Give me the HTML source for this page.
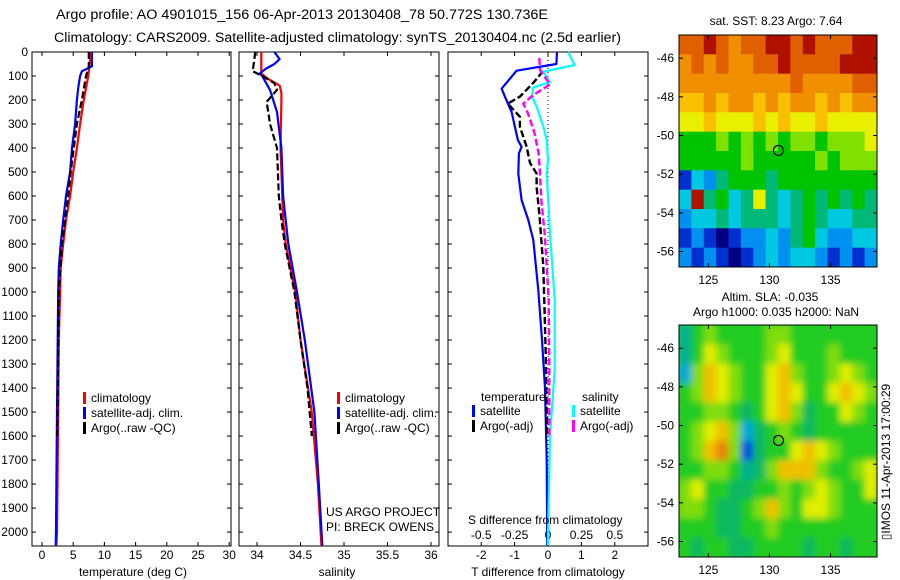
<!DOCTYPE html>
<html><head><meta charset="utf-8"><style>
body{margin:0;background:#fff}
svg{display:block;font-family:"Liberation Sans",sans-serif}
text{fill:#000}
</style></head><body>
<svg id="fig" width="900" height="580" viewBox="0 0 900 580">
<text x="56" y="19" font-size="13.5" textLength="492" lengthAdjust="spacingAndGlyphs">Argo profile: AO 4901015_156 06-Apr-2013 20130408_78 50.772S 130.736E</text>
<text x="54" y="42" font-size="13.5" textLength="567" lengthAdjust="spacingAndGlyphs">Climatology: CARS2009. Satellite-adjusted climatology: synTS_20130404.nc (2.5d earlier)</text>
</svg>
<script>
// ---------- data ----------
const depthTicks=[0,100,200,300,400,500,600,700,800,900,1000,1100,1200,1300,1400,1500,1600,1700,1800,1900,2000];
const tTicks=[0,5,10,15,20,25,30];
const sTicks=[34,34.5,35,35.5,36];
const dTTicks=[-2,-1,0,1,2];
const dSTicks=[-0.5,-0.25,0,0.25,0.5];
const dSTickLabels=["-0.5","-0.25","0","0.25","0.5"];

const climDepth=[0,100,200,300,400,500,600,700,800,900,1000,1200,1500,2000,2055];
const climT=[7.85,7.4,6.7,6.1,5.6,5.0,4.5,3.85,3.4,3.0,2.9,2.7,2.6,2.4,2.3];
const satDepth=[0,60,80,100,150,200,300,400,500,600,700,800,900,1000,1500,2000,2055];
const satT=[8.0,8.0,6.4,6.1,5.8,5.6,5.3,4.8,4.5,3.85,3.4,3.0,2.7,2.6,2.4,2.25,2.2];
const argoDepth=[0,60,100,200,300,400,500,600,800,1000,1500,1600];
const argoT=[7.5,7.5,7.05,6.4,5.6,5.1,4.6,4.2,3.2,2.7,2.5,2.45];

const climSDepth=[0,90,110,140,170,200,400,500,700,800,1000,1200,1500,1800,2055];
const climS=[34.05,34.05,34.12,34.26,34.28,34.28,34.27,34.28,34.30,34.33,34.44,34.50,34.63,34.70,34.74];
const satSDepth=[0,30,50,70,90,100,158,250,400,600,800,1000,1200,1500,1800,2055];
const satS=[34.2,34.26,34.2,34.1,34.03,34.06,34.15,34.23,34.28,34.30,34.36,34.46,34.55,34.66,34.71,34.75];
const argoSDepth=[0,80,100,130,158,208,250,300,400,500,600,700,800,1000,1200,1400,1600];
const argoS=[33.98,33.95,34.06,34.2,34.23,34.11,34.13,34.15,34.23,34.24,34.25,34.28,34.32,34.43,34.5,34.58,34.63];

const dTsatDepth=[0,50,78,153,215,250,367,395,422,506,617,700,783,992,1200,1400,1700,2055];
const dTsat=[0.27,0.25,-0.94,-1.39,-1.2,-1.09,-0.9,-0.79,-0.87,-0.89,-0.79,-0.59,-0.44,-0.29,-0.18,-0.09,-0.04,-0.02];
const dTargoDepth=[80,130,186,215,270,311,394,462,506,561,686,894,1100,1300,1600];
const dTargo=[-0.15,-0.45,-0.84,-1.2,-0.84,-0.84,-0.64,-0.54,-0.34,-0.34,-0.25,-0.14,-0.1,-0.06,-0.03];
const dSsatDepth=[0,54,82,126,147,186,227,311,367,450,506,756,1033,1325,1600,2000,2055];
const dSsat=[0.15,0.2,-0.035,0.015,-0.11,-0.12,-0.085,-0.035,-0.01,0,-0.01,0.015,0.05,0.05,0.015,0,0];
const dSargoDepth=[25,75,135,179,215,256,339,422,506,617,756,894,1033,1300,1600];
const dSargo=[-0.065,-0.06,0.015,-0.11,-0.185,-0.15,-0.1,-0.07,-0.06,-0.05,-0.025,-0.01,0.005,0.01,0.01];

const lonTicks=[125,130,135];
const latTicks=[-46,-48,-50,-52,-54,-56];
const argoLon=130.736, argoLat=-50.772;
const sstRows=[
[10,10,11,10,9,10,10,11,11,10,11,10,10,10,11,11],
[9,10,9,10,9,9,10,10,11,10,10,10,10,11,11,11],
[9,9,9,9,9,9,9,9,9,10,9,9,9,9,10,10],
[8,8,9,8,9,9,8,9,8,9,9,8,9,8,9,9],
[7,7,8,7,7,7,8,7,8,7,7,8,7,7,7,7],
[5,5,5,6,5,6,5,6,5,6,6,5,6,6,6,7],
[5,5,5,5,5,6,5,5,5,5,5,6,5,6,6,6],
[1,3,2,4,5,5,5,4,5,5,5,5,5,5,5,5],
[3,11,4,5,3,4,7,4,3,4,5,4,5,4,5,4],
[2,3,3,4,3,4,4,4,3,4,5,4,3,3,4,4],
[1,2,1,0,1,2,2,3,2,4,5,3,2,2,3,3],
[2,1,2,1,0,1,2,3,2,3,3,2,1,2,1,2]];
const sstColors=["#000080","#0030d0","#0090f0","#00c8e0","#00b878","#00c400","#80e000","#e8f000","#f8c000","#f09000","#e06000","#b01000"];
const slaRows=[
[3,5,6,5,5,5,5,6,6,5,5,5,5,5,5,5],
[3,5,7,6,5,5,5,6,7,5,5,5,6,5,5,5],
[2,6,8,7,6,5,5,7,8,6,5,5,6,7,6,5],
[5,6,8,7,6,5,5,7,8,7,5,5,7,8,7,6],
[5,5,6,6,5,4,5,7,8,6,4,5,5,7,6,5],
[5,6,7,8,6,2,4,5,6,5,4,5,5,5,5,5],
[5,6,8,9,6,1,4,5,5,7,8,7,6,5,5,5],
[5,5,6,6,5,3,4,6,8,8,8,6,5,5,6,7],
[6,7,5,5,4,4,5,5,6,5,6,7,6,5,5,7],
[6,6,5,4,4,5,6,8,6,5,7,7,6,5,5,5],
[5,5,5,4,4,5,5,6,5,5,5,5,5,5,5,5],
[5,4,5,5,4,4,5,5,5,5,4,5,5,4,5,5]];
const slaColors=["#002090","#0050e0","#00a8d8","#00b090","#10b860","#22cc22","#80dd10","#e0ee00","#f0c000","#e88010"];

// ---------- helpers ----------
const NS="http://www.w3.org/2000/svg";
const svg=document.getElementById('fig');
function mk(tag,attrs,parent){const e=document.createElementNS(NS,tag);for(const k in attrs)e.setAttribute(k,attrs[k]);(parent||svg).appendChild(e);return e;}
function txt(x,y,s,anchor,size,parent){const t=mk('text',{x:x,y:y,'font-size':size||12,'text-anchor':anchor||'start'},parent);t.textContent=s;return t;}

const Y0=52, Y1=546, D1=2058;
const yD=d=>Y0+(Y1-Y0)*d/D1;
function panel(x0,x1,name){
  const g=mk('g',{});
  
  
  const r=mk('rect',{x:x0,y:Y0,width:x1-x0,height:Y1-Y0,fill:'#fff',stroke:'#000','stroke-width':1},g);
  
  
  depthTicks.forEach(d=>{mk('line',{x1:x0,x2:x0+4,y1:yD(d),y2:yD(d),stroke:'#000'},g);mk('line',{x1:x1-4,x2:x1,y1:yD(d),y2:yD(d),stroke:'#000'},g);});
  return g;
}
function line(g,xs,ds,sx,color,dash,name,w){
  const pts=xs.map((v,i)=>sx(v).toFixed(1)+','+yD(ds[i]).toFixed(1)).join(' ');
  const p=mk('polyline',{points:pts,fill:'none',stroke:color,'stroke-width':w||2.2,'stroke-dasharray':dash||'none','stroke-linejoin':'round'},g);
  
  
}
function xticks(g,x0,x1,ticks,sx,labels,ly){
  ticks.forEach((t,i)=>{const x=sx(t);mk('line',{x1:x,x2:x,y1:Y0,y2:Y0+4,stroke:'#000'},g);mk('line',{x1:x,x2:x,y1:Y1-4,y2:Y1,stroke:'#000'},g);
    const l=txt(x,ly,labels?labels[i]:String(t),'middle',12,g);
    
    });
}
function legend(g,x,y,items){
  items.forEach((it,i)=>{mk('rect',{x:x,y:y+i*15-10,width:3,height:12,fill:it[1]},g);
    const t=txt(x+8,y+i*15,it[0],'start',12,g);
    
    });
}

const dl=mk('g',{});


depthTicks.forEach(d=>{txt(28,yD(d)+4,String(d),'end',12,dl);});

// Panel 1 temperature
const tx=v=>42+v*6.24;
const p1=panel(32,231,'temperature-panel');
xticks(p1,32,231,tTicks,tx,null,559);
line(p1,climT,climDepth,tx,'#ff0000',null,'climatology-temp-line');
line(p1,satT,satDepth,tx,'#0000ff',null,'satellite-temp-line');
line(p1,argoT,argoDepth,tx,'#000',"7,3",'argo-temp-line');
legend(p1,83,402,[["climatology","#f00"],["satellite-adj. clim.","#00f"],["Argo(..raw -QC)","#000"]]);
const xt1=txt(133,576,'temperature (deg C)','middle',12);



// Panel 2 salinity
const sx=v=>257+(v-34)*87;
const p2=panel(239,439,'salinity-panel');
xticks(p2,239,439,sTicks,sx,null,559);
line(p2,climS,climSDepth,sx,'#ff0000',null,'climatology-salinity-line');
line(p2,satS,satSDepth,sx,'#0000ff',null,'satellite-salinity-line');
line(p2,argoS,argoSDepth,sx,'#000',"7,3",'argo-salinity-line');
legend(p2,337,402,[["climatology","#f00"],["satellite-adj. clim.","#00f"],["Argo(..raw -QC)","#000"]]);
txt(326,516,'US ARGO PROJECT','start',12,p2);
txt(326,531,'PI: BRECK OWENS','start',12,p2);
const xt2=txt(337,576,'salinity','middle',12);



// Panel 3 differences
const dx=v=>548+v*33.4;
const dsx=v=>548+v*133.6;
const p3=panel(448,648,'difference-panel');
dTTicks.forEach(t=>{const x=dx(t);mk('line',{x1:x,x2:x,y1:Y0,y2:Y0+4,stroke:'#000'},p3);mk('line',{x1:x,x2:x,y1:Y1-4,y2:Y1,stroke:'#000'},p3);txt(x,559,String(t),'middle',12,p3);});
dSTicks.forEach((t,i)=>{txt(dsx(t),539,dSTickLabels[i],'middle',12,p3);});
mk('line',{x1:548,x2:548,y1:Y0,y2:Y1,stroke:'#000','stroke-dasharray':'1,3'},p3);
line(p3,dTsat,dTsatDepth,dx,'#0000ff',null,'satellite-temp-diff-line');
line(p3,dTargo,dTargoDepth,dx,'#000',"7,3",'argo-temp-diff-line',2.4);
line(p3,dSsat,dSsatDepth,dsx,'#00ffff',null,'satellite-salinity-diff-line');
line(p3,dSargo,dSargoDepth,dsx,'#ff00ff',"7,3",'argo-salinity-diff-line',2.4);
txt(481,401,'temperature','start',12,p3);
txt(582,401,'salinity','start',12,p3);
legend(p3,472,415,[["satellite","#00f"],["Argo(-adj)","#000"]]);
legend(p3,572,415,[["satellite","#0ff"],["Argo(-adj)","#f0f"]]);
txt(468,524,'S difference from climatology','start',12,p3);
const xt3=txt(548,576,'T difference from climatology','middle',12);



// Maps
function map(top,bot,rows,colors,name,blur){
  const L=679,R=877,W=R-L,H=bot-top;
  const lx=v=>L+(v-122.6)*W/16.2;
  const ly=v=>top+(-44.8-v)*H/12;
  const g=mk('g',{});
  
  
  const cid='clip-'+name;
  const cp=mk('clipPath',{id:cid},g);mk('rect',{x:L,y:top,width:W,height:H},cp);
  const cells=mk('g',{'clip-path':'url(#'+cid+')'},g);
  const inner=mk('g',blur?{filter:'url(#bl)'}:{},cells);
  if(blur){
    mk('rect',{x:L-12,y:top-12,width:W+24,height:H+24,fill:colors[5]},inner);
  }
  const cw=W/rows[0].length,ch=H/rows.length;
  rows.forEach((r,i)=>r.forEach((c,j)=>{
    const e=mk('rect',{x:(L+j*cw).toFixed(1),y:(top+i*ch).toFixed(1),width:(cw+0.6).toFixed(1),height:(ch+0.6).toFixed(1),fill:colors[c]},inner);
    
    
  }));
  mk('rect',{x:L,y:top,width:W,height:H,fill:'none',stroke:'#000'},g);
  latTicks.forEach(v=>{const y=ly(v);mk('line',{x1:L,x2:L+4,y1:y,y2:y,stroke:'#000'},g);mk('line',{x1:R-4,x2:R,y1:y,y2:y,stroke:'#000'},g);txt(674,y+4,String(v),'end',12,g);});
  lonTicks.forEach(v=>{const x=lx(v);mk('line',{x1:x,x2:x,y1:top,y2:top+4,stroke:'#000'},g);mk('line',{x1:x,x2:x,y1:bot-4,y2:bot,stroke:'#000'},g);txt(x,bot+17,String(v),'middle',12,g);});
  const c=mk('circle',{cx:lx(argoLon),cy:ly(argoLat),r:5,fill:'none',stroke:'#000','stroke-width':1.2},g);
  
  
}
const defs=mk('defs',{});
const f=mk('filter',{id:'bl',x:'-10%',y:'-10%',width:'120%',height:'120%'},defs);
mk('feGaussianBlur',{stdDeviation:3.5},f);
map(35,267,sstRows,sstColors,'sst-map',false);
map(325,557,slaRows,slaColors,'sla-map',true);
txt(776,25,'sat. SST: 8.23 Argo: 7.64','middle',12);
txt(770,301,'Altim. SLA: -0.035','middle',12);
txt(776,316,'Argo h1000: 0.035 h2000: NaN','middle',12);
const v=txt(0,0,'▯IMOS 11-Apr-2013 17:00:29','middle',12);
v.setAttribute('transform','translate(890,462) rotate(-90)');


</script>
</body></html>
